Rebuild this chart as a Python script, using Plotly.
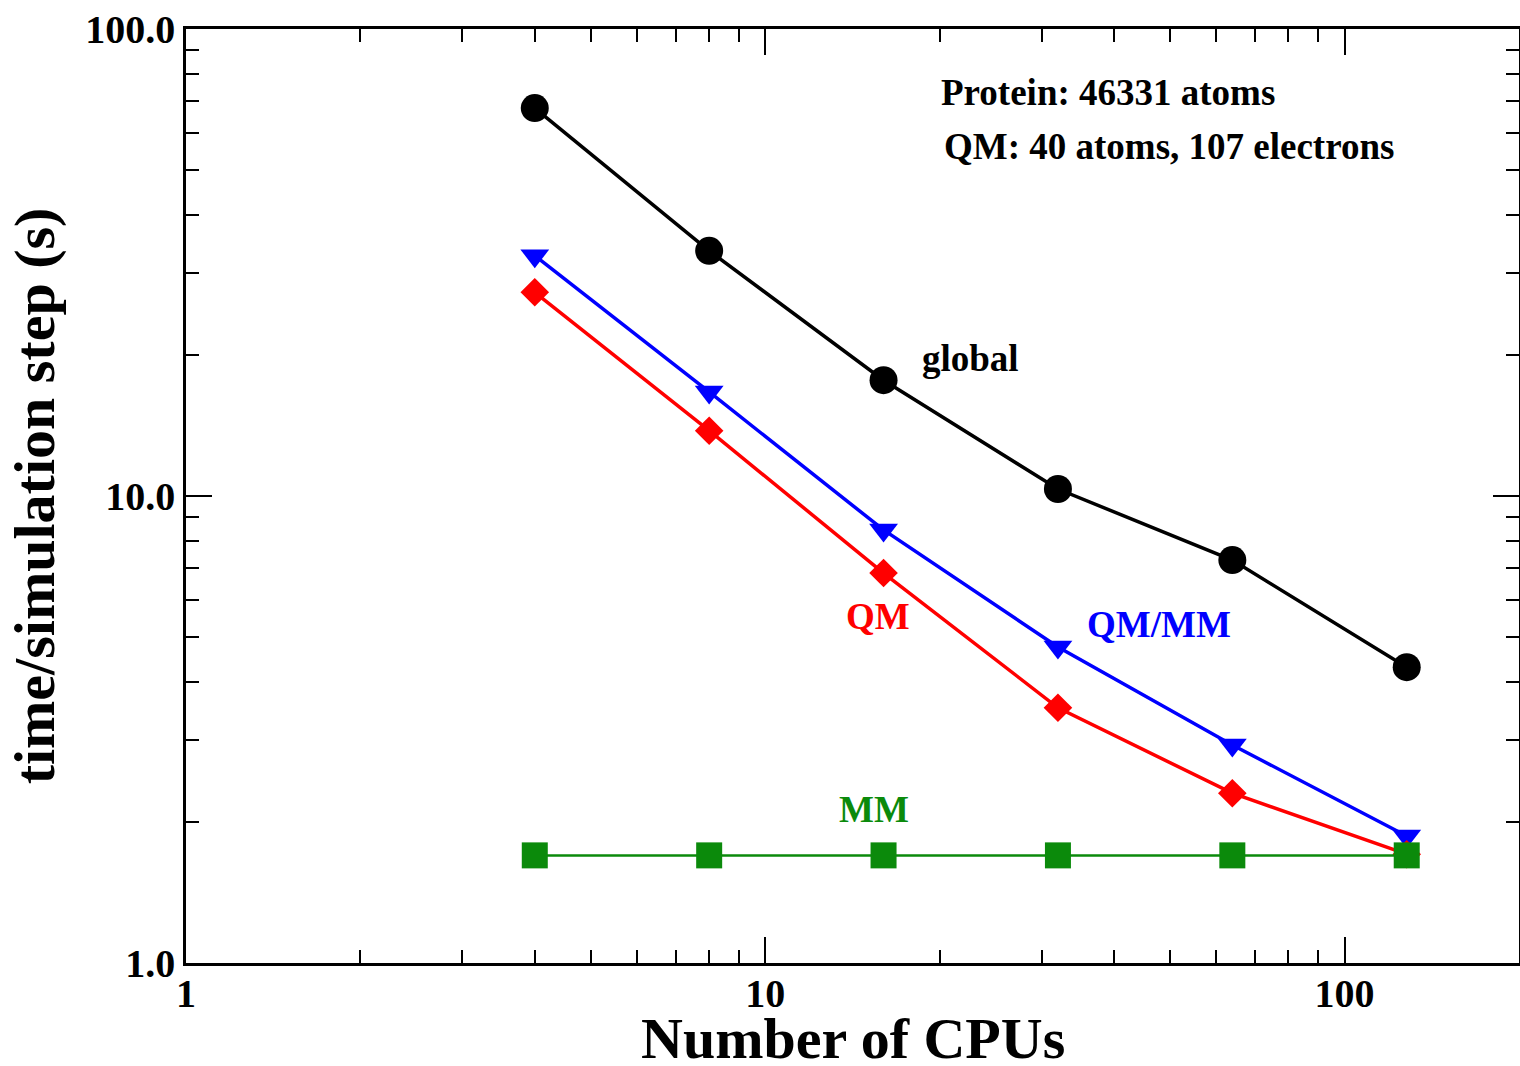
import plotly.graph_objects as go
import math

cpus = [4, 8, 16, 32, 64, 128]
global_t = [67.7, 33.5, 17.7, 10.35, 7.29, 4.30]
qmmm_t = [32.7, 16.7, 8.46, 4.75, 2.93, 1.87]
qm_t = [27.3, 13.8, 6.84, 3.52, 2.31, 1.71]
mm_t = [1.70, 1.70, 1.70, 1.70, 1.70, 1.70]

x_tickvals = [1, 10, 100]
x_ticktext = ["1", "10", "100"]
y_tickvals = [1, 10, 100]
y_ticktext = ["1.0", "10.0", "100.0"]

FONT = "Liberation Serif"

fig = go.Figure()
fig.add_trace(go.Scatter(x=cpus, y=global_t, mode="lines+markers", name="global",
                         line=dict(color="black", width=3.5),
                         marker=dict(symbol="circle", size=28, color="black", line=dict(width=0))))
fig.add_trace(go.Scatter(x=cpus, y=qmmm_t, mode="lines+markers", name="QM/MM",
                         line=dict(color="#0000ff", width=3.5),
                         marker=dict(symbol="triangle-down", size=25, color="#0000ff", line=dict(width=0))))
fig.add_trace(go.Scatter(x=cpus, y=qm_t, mode="lines+markers", name="QM",
                         line=dict(color="#ff0000", width=3.5),
                         marker=dict(symbol="diamond", size=22, color="#ff0000", line=dict(width=0))))
fig.add_trace(go.Scatter(x=cpus, y=mm_t, mode="lines+markers", name="MM",
                         line=dict(color="#0b8a0b", width=2.5),
                         marker=dict(symbol="square", size=26, color="#0b8a0b", line=dict(width=0))))

axis_common = dict(
    type="log", showgrid=False, zeroline=False, automargin=False,
    showline=True, linecolor="black", linewidth=2.5, mirror="ticks",
    ticks="inside", ticklen=26, tickwidth=2, tickcolor="black",
    minor=dict(dtick="D1", ticks="inside", ticklen=13, tickwidth=2, tickcolor="black", showgrid=False),
    tickfont=dict(family=FONT, size=40, color="black", weight="bold"),
)

fig.update_xaxes(**axis_common, range=[0, math.log10(200)],
                 tickvals=x_tickvals, ticktext=x_ticktext, ticklabelstandoff=-7)
fig.update_yaxes(**axis_common, range=[0, 2],
                 tickvals=y_tickvals, ticktext=y_ticktext,
                 title=dict(text="time/simulation step (s)", font=dict(family=FONT, size=58, color="black", weight="bold"),
                            standoff=12))

# x-axis title placed as paper text to match original spacing
fig.add_annotation(x=0.5, y=-0.081, xref="paper", yref="paper", xanchor="center", yanchor="middle",
                   text="Number of CPUs", showarrow=False,
                   font=dict(family=FONT, size=58, color="black", weight="bold"))

ann_font = lambda c: dict(family=FONT, size=37, color=c, weight="bold")
fig.add_annotation(x=1.355, y=1.2955, xref="x", yref="y", text="global", showarrow=False, font=ann_font("black"))
fig.add_annotation(x=1.194, y=0.743, xref="x", yref="y", text="QM", showarrow=False, font=ann_font("#ff0000"))
fig.add_annotation(x=1.679, y=0.724, xref="x", yref="y", text="QM/MM", showarrow=False, font=ann_font("#0000ff"))
fig.add_annotation(x=1.1875, y=0.328, xref="x", yref="y", text="MM", showarrow=False, font=ann_font("#0b8a0b"))
fig.add_annotation(x=0.565, y=0.9315, xref="paper", yref="paper", xanchor="left", yanchor="middle",
                   text="Protein: 46331 atoms", showarrow=False, font=ann_font("black"))
fig.add_annotation(x=0.567, y=0.8737, xref="paper", yref="paper", xanchor="left", yanchor="middle",
                   text="QM: 40 atoms, 107 electrons", showarrow=False, font=ann_font("black"))

fig.update_layout(width=1520, height=1066, margin=dict(l=186, r=1, t=29, b=103),
                  plot_bgcolor="white", paper_bgcolor="white", showlegend=False)

fig.write_html("out.html")
